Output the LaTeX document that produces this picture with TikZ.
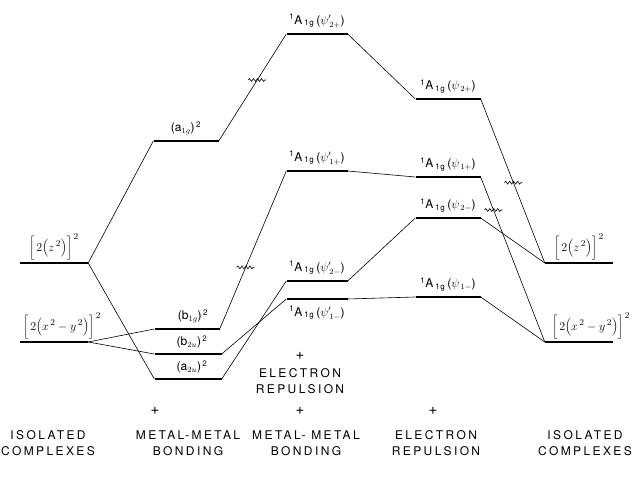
\documentclass[tikz,border=0pt]{standalone}
\usepackage{fontspec}
\setmainfont{TeX Gyre Heros}
\newfontfamily\capsfont[LetterSpace=20]{TeX Gyre Heros}
\newfontfamily\lblfont[LetterSpace=8]{TeX Gyre Heros}
\usetikzlibrary{positioning,decorations.pathmorphing}
\newcommand{\agl}[2]{\textsuperscript{1}A\,\textsubscript{1g}\,($\psi#1_{\,#2}$)}
\newcommand{\orb}[2]{($\mathrm{#1}_{#2}$)\textsuperscript{\,2}}
\begin{document}
\begin{tikzpicture}[x=1pt,y=-1pt, every node/.style={font=\lblfont\fontsize{12}{14}\selectfont},
    lvl/.style={fill=black, inner sep=0pt, minimum height=2.6pt},
    conn/.style={line width=0.6pt},
    brk/.style={line width=0.6pt, decorate, decoration={snake, amplitude=1.4pt, segment length=4pt}},
    brak/.style={font=\fontsize{13}{16}\selectfont, inner sep=1pt},
    plus/.style={font=\fontsize{15}{16}\selectfont},
    colname/.style={font=\capsfont\fontsize{12}{16}\selectfont, align=center}]
    \useasboundingbox (0,0) rectangle (633,484);
    \node[lvl, minimum width=68pt] (zzL) at (54,263) {};
    \node[lvl, minimum width=68pt] (xyL) at (54,342) {};
    \node[lvl, minimum width=65pt] (aog) at (186,141) {};
    \node[lvl, minimum width=65pt] (bog) at (187,329) {};
    \node[lvl, minimum width=67pt] (btu) at (188,354) {};
    \node[lvl, minimum width=67pt] (atu) at (188,379) {};
    \node[lvl, minimum width=61pt] (ppa) at (317,34) {};
    \node[lvl, minimum width=61pt] (ppb) at (317,171) {};
    \node[lvl, minimum width=61pt] (ppc) at (317,281) {};
    \node[lvl, minimum width=61pt] (ppd) at (317,299) {};
    \node[lvl, minimum width=65pt] (pa) at (448,99) {};
    \node[lvl, minimum width=65pt] (pb) at (448,177) {};
    \node[lvl, minimum width=65pt] (pc) at (448,218) {};
    \node[lvl, minimum width=65pt] (pd) at (448,297) {};
    \node[lvl, minimum width=68pt] (zzR) at (579,263) {};
    \node[lvl, minimum width=68pt] (xyR) at (579,342) {};
    \node[brak, above=0pt of zzL] (zzLt) {$\biggl[\,2\Bigl(z^{\,2}\Bigr)\biggr]^{\,2}$};
    \node[brak, above=0pt of xyL, xshift=8pt] (xyLt) {$\biggl[\,2\Bigl(x^{\,2}-y^{\,2}\Bigr)\biggr]^{\,2}$};
    \node[above=1pt of aog] (aogt) {\orb{a}{1g}};
    \node[above=1pt of bog, xshift=6pt] (bogt) {\orb{b}{1g}};
    \node[above=1pt of btu, xshift=4pt] (btut) {\orb{b}{2u}};
    \node[above=1pt of atu, xshift=4pt] (atut) {\orb{a}{2u}};
    \node[above=1pt of ppa] (ppat) {\agl{'}{2+}};
    \node[above=1pt of ppb] (ppbt) {\agl{'}{1+}};
    \node[above=1pt of ppc] (ppct) {\agl{'}{2-}};
    \node[below=2pt of ppd] (ppdt) {\agl{'}{1-}};
    \node[above=1pt of pa] (pat) {\agl{}{2+}};
    \node[above=1pt of pb] (pbt) {\agl{}{1+}};
    \node[above=1pt of pc] (pct) {\agl{}{2-}};
    \node[above=1pt of pd] (pdt) {\agl{}{1-}};
    \node[brak, above=0pt of zzR] (zzRt) {$\biggl[\,2\Bigl(z^{\,2}\Bigr)\biggr]^{\,2}$};
    \node[brak, above=0pt of xyR, xshift=12pt] (xyRt) {$\biggl[\,2\Bigl(x^{\,2}-y^{\,2}\Bigr)\biggr]^{\,2}$};
    \draw[conn] (zzL.east) -- (aog.west);
    \draw[conn] (zzL.east) -- (atu.west);
    \draw[conn] (xyL.east) -- (bog.west);
    \draw[conn] (xyL.east) -- (btu.west);
    \draw[conn] (aog.east) -- coordinate[pos=0.57] (brkA) (ppa.west);
    \draw[conn] (bog.east) -- coordinate[pos=0.39] (brkB) (ppb.west);
    \draw[conn] (btu.east) -- (ppd.west);
    \draw[conn] (atu.east) -- (ppc.west);
    \draw[conn] (ppa.east) -- (pa.west);
    \draw[conn] (ppb.east) -- (pb.west);
    \draw[conn] (ppc.east) -- (pc.west);
    \draw[conn] (ppd.east) -- (pd.west);
    \draw[conn] (pa.east) -- coordinate[pos=0.51] (brkC) (zzR.west);
    \draw[conn] (pb.east) -- coordinate[pos=0.2] (brkD) (xyR.west);
    \draw[conn] (pc.east) -- (zzR.west);
    \draw[conn] (pd.east) -- (xyR.west);
    \draw[brk] ([xshift=-9pt]brkA) -- ([xshift=9pt]brkA);
    \draw[brk] ([xshift=-9pt]brkB) -- ([xshift=9pt]brkB);
    \draw[brk] ([xshift=-9pt]brkC) -- ([xshift=9pt]brkC);
    \draw[brk] ([xshift=-9pt]brkD) -- ([xshift=9pt]brkD);
    \node[plus] (plusM) at (300,356) {+};
    \node[colname] (erM) at (300,381) {ELECTRON\\REPULSION};
    \node[plus] (plusA) at (155,411) {+};
    \node[plus] (plusB) at (300,411) {+};
    \node[plus] (plusC) at (433,411) {+};
    \node[colname] (isoL) at (48,443) {ISOLATED\\COMPLEXES};
    \node[colname] (mmA) at (188,443) {METAL-METAL\\BONDING};
    \node[colname] (mmB) at (306,443) {METAL- METAL\\BONDING};
    \node[colname] (erR) at (436,443) {ELECTRON\\REPULSION};
    \node[colname] (isoR) at (585,443) {ISOLATED\\COMPLEXES};
\end{tikzpicture}
\end{document}
